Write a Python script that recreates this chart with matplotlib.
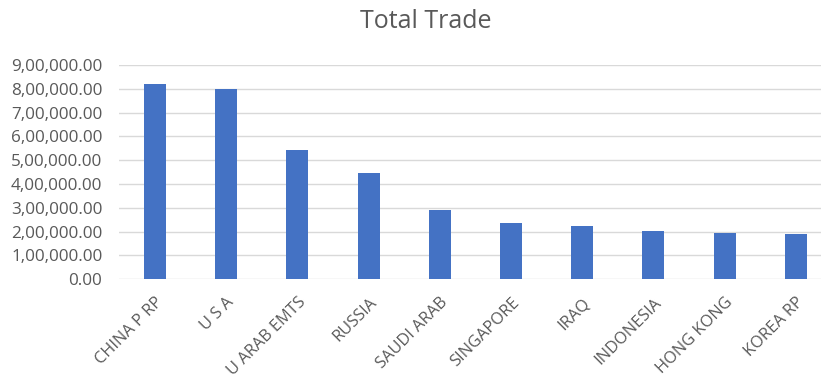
import matplotlib.pyplot as plt
from matplotlib.ticker import FuncFormatter

countries = ['CHINA P RP', 'U S A', 'U ARAB EMTS', 'RUSSIA', 'SAUDI ARAB',
             'SINGAPORE', 'IRAQ', 'INDONESIA', 'HONG KONG', 'KOREA RP']
total_trade = [822000, 801000, 542000, 448000, 289000,
               235000, 223000, 202000, 196000, 189000]
yticks = [0, 100000, 200000, 300000, 400000, 500000, 600000, 700000, 800000, 900000]

plt.rcParams['font.family'] = ['Open Sans', 'DejaVu Sans']
text_col = '#595959'


def indian_fmt(v, pos=None):
    # Indian digit grouping: 9,00,000.00
    s = f"{int(round(v))}"
    if len(s) > 3:
        head, tail = s[:-3], s[-3:]
        groups = []
        while len(head) > 2:
            groups.insert(0, head[-2:])
            head = head[:-2]
        if head:
            groups.insert(0, head)
        s = ','.join(groups) + ',' + tail
    return s + '.00'


fig = plt.figure(figsize=(8.21, 3.83), dpi=100)
W, H = 821, 383
left, right = 119.4, 831.4
top, bottom = 65, 279.3
ax = fig.add_axes([left / W, 1 - bottom / H, (right - left) / W, (bottom - top) / H])

x = range(len(countries))
ax.bar(x, total_trade, width=0.31, color='#4472C4', zorder=3)

ax.set_xlim(-0.5, len(countries) - 0.5)
ax.set_ylim(0, 900000)
ax.set_yticks(yticks)
ax.yaxis.set_major_formatter(FuncFormatter(indian_fmt))
ax.grid(axis='y', color='#d9d9d9', linewidth=1, zorder=0)
ax.set_axisbelow(True)
for s in ax.spines.values():
    s.set_visible(False)

ax.set_xticks(list(x))
ax.set_xticklabels(countries, rotation=45, ha='right', rotation_mode='anchor',
                   fontsize=11.8, color=text_col)
ax.tick_params(axis='x', length=0, pad=11)
ax.tick_params(axis='y', length=0, pad=12.3, labelsize=12.3, labelcolor=text_col)

fig.text(426 / W, 1 - 21 / H, 'Total Trade', ha='center', va='center',
         fontsize=18, color=text_col)

fig.savefig('out.png', dpi=100)
